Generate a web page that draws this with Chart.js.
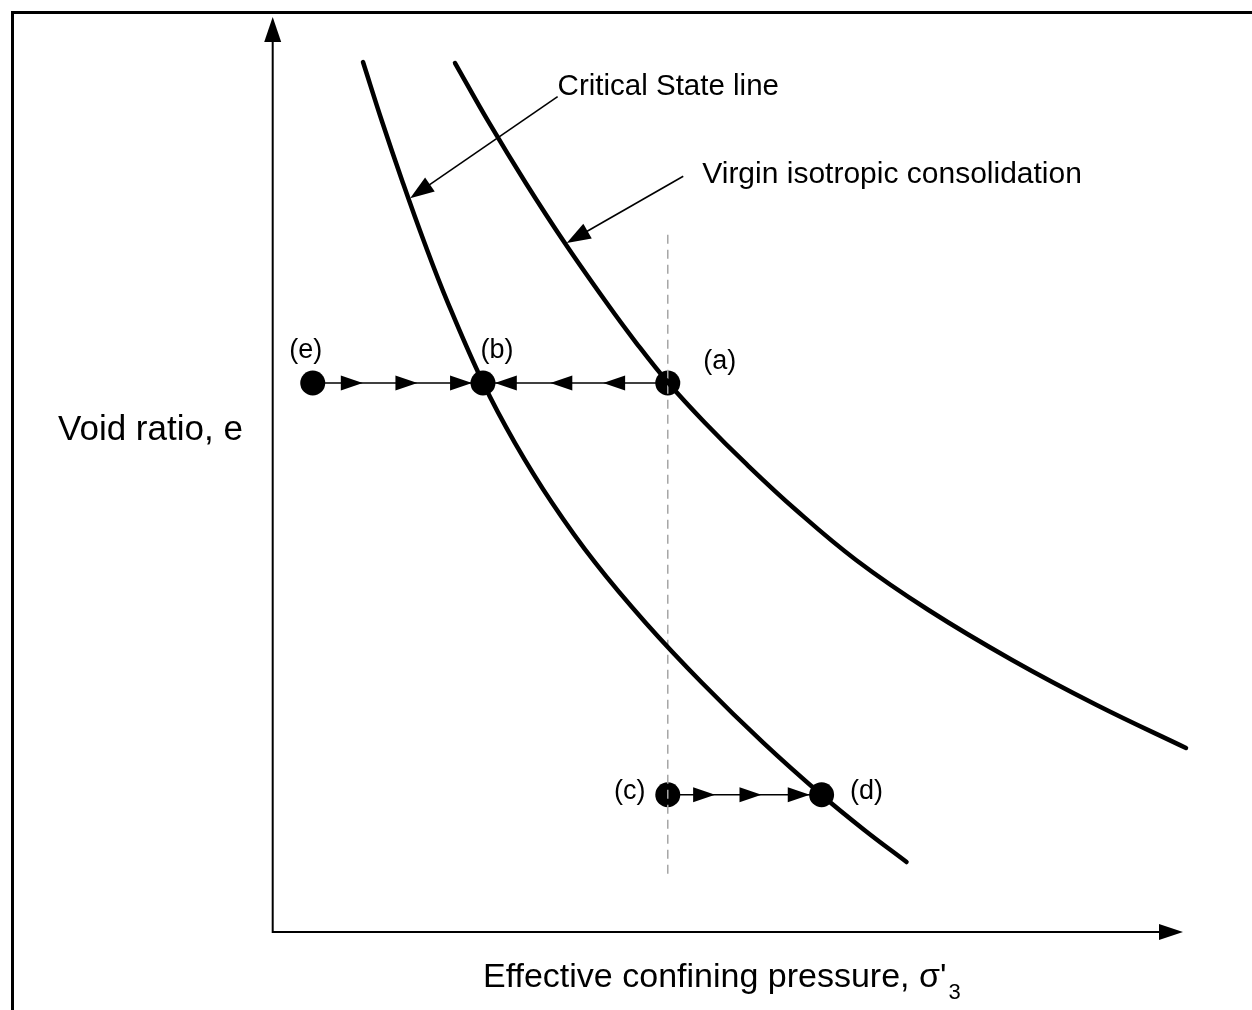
<!DOCTYPE html>
<html><head><meta charset="utf-8">
<script src="https://cdn.jsdelivr.net/npm/chart.js@4"></script>
<style>html,body{margin:0;padding:0;background:#fff;} canvas{display:block;}</style>
</head><body>
<canvas id="c" width="1252" height="1010"></canvas>
<script>
// ---- data (abstract units, axes 0..10) ----
const cslX = [0.992, 1.203, 1.427, 1.664, 1.921, 2.312, 2.662, 3.070, 3.545, 4.099, 4.718, 5.391, 6.030, 6.499, 6.963];
const cslY = [9.508, 8.852, 8.197, 7.541, 6.885, 6.000, 5.344, 4.689, 4.033, 3.377, 2.721, 2.066, 1.497, 1.115, 0.765];
const viclX = [2.003, 2.378, 2.780, 3.209, 3.670, 3.995, 4.347, 4.751, 5.191, 5.749, 6.408, 7.204, 8.122, 9.051, 10.033];
const viclY = [9.497, 8.842, 8.186, 7.530, 6.874, 6.437, 6.000, 5.563, 5.126, 4.612, 4.066, 3.519, 2.973, 2.481, 2.011];
const stateLabels = ['(e)', '(b)', '(a)', '(c)', '(d)'];
const stateX = [0.44, 2.31, 4.34, 4.34, 6.03];
const stateY = [6.00, 6.00, 6.00, 1.50, 1.50];
const dashX = [4.34, 4.34];
const dashY = [7.62, 0.62];
const tipsEB = [0.99, 1.59, 2.19];   // arrows pointing right, on path e -> b
const tipsAB = [2.44, 3.05, 3.63];   // arrows pointing left, on path a -> b
const tipsCD = [4.86, 5.37, 5.90];   // arrows pointing right, on path c -> d
const annotLabels = ['Critical State line', 'Virgin isotropic consolidation'];
const annotFromX = [3.13, 4.51];
const annotFromY = [9.13, 8.26];
const annotTipX = [1.51, 3.23];
const annotTipY = [8.02, 7.53];
const xTitle = "Effective confining pressure, \u03C3'";
const xTitleSub = '3';
const yTitle = 'Void ratio, e';

const pts = (xs, ys) => xs.map((x, i) => ({x, y: ys[i]}));
const seg = (i, j) => [{x: stateX[i], y: stateY[i]}, {x: stateX[j], y: stateY[j]}];
const FONT = '"Liberation Sans", Arial, sans-serif';

function head(ctx, tx, ty, ang, len, hw) {
  ctx.save();
  ctx.translate(tx, ty);
  ctx.rotate(ang);
  ctx.beginPath();
  ctx.moveTo(0, 0);
  ctx.lineTo(-len, -hw);
  ctx.lineTo(-len, hw);
  ctx.closePath();
  ctx.fillStyle = '#000';
  ctx.fill();
  ctx.restore();
}

const decor = {
  id: 'decor',
  beforeDatasetsDraw(chart) {
    const ctx = chart.ctx, xs = chart.scales.x, ys = chart.scales.y;
    ctx.save();
    // frame
    ctx.strokeStyle = '#000';
    ctx.lineWidth = 3;
    ctx.beginPath();
    ctx.moveTo(12.5, 1010);
    ctx.lineTo(12.5, 12.5);
    ctx.lineTo(1252, 12.5);
    ctx.stroke();
    // axes
    const x0 = xs.getPixelForValue(0), y0 = ys.getPixelForValue(0);
    const xt = xs.getPixelForValue(10), yt = ys.getPixelForValue(10);
    ctx.lineWidth = 2;
    ctx.beginPath();
    ctx.moveTo(x0, yt + 20);
    ctx.lineTo(x0, y0);
    ctx.lineTo(xt - 20, y0);
    ctx.stroke();
    head(ctx, x0, yt, -Math.PI / 2, 25, 8.5);
    head(ctx, xt, y0, 0, 24, 8);
    ctx.restore();
  },
  afterDatasetsDraw(chart) {
    const ctx = chart.ctx, xs = chart.scales.x, ys = chart.scales.y;
    const px = v => xs.getPixelForValue(v), py = v => ys.getPixelForValue(v);
    ctx.save();
    // arrowheads along the stress paths
    tipsEB.forEach(t => head(ctx, px(t), py(stateY[0]), 0, 22, 7.5));
    tipsAB.forEach(t => head(ctx, px(t), py(stateY[2]), Math.PI, 22, 7.5));
    tipsCD.forEach(t => head(ctx, px(t), py(stateY[3]), 0, 22, 7.5));
    // annotation leaders
    ctx.strokeStyle = '#000';
    ctx.lineWidth = 1.6;
    annotLabels.forEach((lab, i) => {
      const fx = px(annotFromX[i]), fy = py(annotFromY[i]);
      const tx = px(annotTipX[i]), ty = py(annotTipY[i]);
      const ang = Math.atan2(ty - fy, tx - fx);
      ctx.beginPath();
      ctx.moveTo(fx, fy);
      ctx.lineTo(tx - 18 * Math.cos(ang), ty - 18 * Math.sin(ang));
      ctx.stroke();
      head(ctx, tx, ty, ang, 24, 8.5);
    });
    // annotation texts
    ctx.fillStyle = '#000';
    ctx.textBaseline = 'alphabetic';
    ctx.textAlign = 'left';
    ctx.font = '29.5px ' + FONT;
    ctx.fillText(annotLabels[0], px(annotFromX[0]) + 0, py(annotFromY[0]) - 2);
    ctx.font = '30px ' + FONT;
    ctx.fillText(annotLabels[1], px(annotFromX[1]) + 19, py(annotFromY[1]) + 7);
    // state labels
    const offs = [[-7, -32], [14, -32], [52, -21], [-38, -3], [45, -3]];
    ctx.font = '27px ' + FONT;
    ctx.textAlign = 'center';
    ctx.textBaseline = 'middle';
    stateLabels.forEach((l, i) => {
      ctx.fillText(l, px(stateX[i]) + offs[i][0], py(stateY[i]) + offs[i][1]);
    });
    // y title
    ctx.textAlign = 'left';
    ctx.textBaseline = 'alphabetic';
    ctx.font = '35px ' + FONT;
    ctx.fillText(yTitle, 58, 440);
    // x title
    ctx.font = '34px ' + FONT;
    const w = ctx.measureText(xTitle).width;
    ctx.fillText(xTitle, 483, 987);
    ctx.font = '22px ' + FONT;
    ctx.fillText(xTitleSub, 483 + w + 2, 999);
    ctx.restore();
  }
};

new Chart(document.getElementById('c'), {
  type: 'scatter',
  data: {
    datasets: [
      {data: pts(cslX, cslY), showLine: true, borderColor: '#000', borderWidth: 4.5,
       borderCapStyle: 'round', pointRadius: 0, tension: 0.4, clip: false},
      {data: pts(viclX, viclY), showLine: true, borderColor: '#000', borderWidth: 4.5,
       borderCapStyle: 'round', pointRadius: 0, tension: 0.4, clip: false},
      {data: pts(dashX, dashY), showLine: true, borderColor: '#a6a6a6', borderWidth: 1.5,
       borderDash: [9, 6], pointRadius: 0, clip: false},
      {data: seg(0, 1), showLine: true, borderColor: '#000', borderWidth: 1.6, pointRadius: 0, clip: false},
      {data: seg(2, 1), showLine: true, borderColor: '#000', borderWidth: 1.6, pointRadius: 0, clip: false},
      {data: seg(3, 4), showLine: true, borderColor: '#000', borderWidth: 1.6, pointRadius: 0, clip: false},
      {data: pts(stateX, stateY), showLine: false, pointRadius: 12.5, pointBackgroundColor: '#000',
       pointBorderColor: '#000', pointBorderWidth: 0, clip: false}
    ]
  },
  options: {
    responsive: false,
    animation: false,
    events: [],
    layout: {padding: {left: 272.7, right: 69, top: 17, bottom: 78}},
    plugins: {legend: {display: false}, tooltip: {enabled: false}},
    scales: {
      x: {type: 'linear', min: 0, max: 10, display: false},
      y: {type: 'linear', min: 0, max: 10, display: false}
    }
  },
  plugins: [decor]
});
</script>
</body></html>
